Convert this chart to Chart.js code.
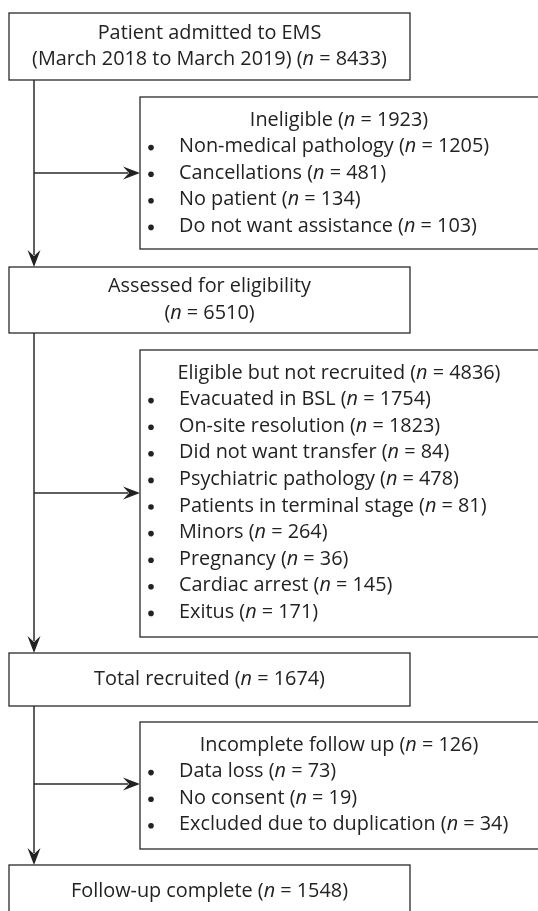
<!DOCTYPE html>
<html lang="en">
<head>
    <meta charset="UTF-8">
    <title>Patient flow</title>
    <style>
        html, body { margin: 0; padding: 0; background: #fff; }
        canvas { display: block; }
    </style>
</head>
<body>

<canvas id="flow-chart" width="538" height="911"></canvas>

<script src="https://cdn.jsdelivr.net/npm/chart.js@4.4.1/dist/chart.umd.min.js"></script>
<script>
    // main stream
    const stepLabels = ['Patient admitted to EMS', 'Assessed for eligibility', 'Total recruited', 'Follow-up complete'];
    const stepNotes = ['(March 2018 to March 2019)', '', '', ''];
    const stepCounts = [8433, 6510, 1674, 1548];

    // side boxes, people leaving the stream
    const exitLabels = ['Ineligible', 'Eligible but not recruited', 'Incomplete follow up'];
    const exitCounts = [1923, 4836, 126];

    const ineligibleReasons = ['Non-medical pathology', 'Cancellations', 'No patient', 'Do not want assistance'];
    const ineligibleCounts = [1205, 481, 134, 103];

    const notRecruitedReasons = ['Evacuated in BSL', 'On-site resolution', 'Did not want transfer',
        'Psychiatric pathology', 'Patients in terminal stage', 'Minors', 'Pregnancy', 'Cardiac arrest', 'Exitus'];
    const notRecruitedCounts = [1754, 1823, 84, 478, 81, 264, 36, 145, 171];

    const lossReasons = ['Data loss', 'No consent', 'Excluded due to duplication'];
    const lossCounts = [73, 19, 34];

    const exitReasons = [ineligibleReasons, notRecruitedReasons, lossReasons];
    const exitReasonCounts = [ineligibleCounts, notRecruitedCounts, lossCounts];

    // layout (chart units, the scales run 0..538 and 0..911)
    const SPINE_X = 34;
    const stepBoxes = [[9, 410, 13, 80], [9, 410, 267, 333], [9, 410, 653, 706], [9, 410, 865, 918]];
    const stepTwoLines = [true, true, false, false];
    const exitBoxes = [[140, 545, 97, 249], [140, 545, 350, 637], [140, 545, 722, 849]];
    const exitArrowY = [173, 493, 784];
    const LINE_H = 26.6;
    const PAD_TOP = 23;
    const BULLET_X = 151;
    const TEXT_X = 179;
    const FONT = '"Open Sans", "Noto Sans", sans-serif';
    const INK = '#222';

    let fontPx = 18;

    function countSegs(n) {
        return [{t: '(', i: false}, {t: 'n', i: true}, {t: ' = ' + n + ')', i: false}];
    }

    function setFont(ctx, italic) {
        ctx.font = (italic ? 'italic ' : '') + fontPx + 'px ' + FONT;
    }

    function segWidth(ctx, segs) {
        let w = 0;
        for (const s of segs) {
            setFont(ctx, s.i);
            w += ctx.measureText(s.t).width;
        }
        return w;
    }

    function drawSegs(ctx, segs, x, y, center) {
        let cx = center ? x - segWidth(ctx, segs) / 2 : x;
        ctx.fillStyle = INK;
        ctx.textBaseline = 'middle';
        ctx.textAlign = 'left';
        for (const s of segs) {
            setFont(ctx, s.i);
            ctx.fillText(s.t, cx, y);
            cx += ctx.measureText(s.t).width;
        }
    }

    function arrowHead(ctx, x, y, dir) {
        const L = 17, W = 6.5, notch = 6;
        ctx.beginPath();
        if (dir === 'down') {
            ctx.moveTo(x, y);
            ctx.lineTo(x - W, y - L);
            ctx.lineTo(x, y - L + notch);
            ctx.lineTo(x + W, y - L);
        } else {
            ctx.moveTo(x, y);
            ctx.lineTo(x - L, y - W);
            ctx.lineTo(x - L + notch, y);
            ctx.lineTo(x - L, y + W);
        }
        ctx.closePath();
        ctx.fillStyle = INK;
        ctx.fill();
    }

    const flowPlugin = {
        id: 'flow',
        afterDraw(chart) {
            const ctx = chart.ctx;
            const sx = v => chart.scales.x.getPixelForValue(v);
            const sy = v => chart.scales.y.getPixelForValue(v);

            // fit the font on the widest line of the first box
            fontPx = 40;
            const probe = [{t: stepNotes[0] + ' ', i: false}].concat(countSegs(stepCounts[0]));
            fontPx = 40 * 355 / segWidth(ctx, probe);

            ctx.save();
            ctx.strokeStyle = '#2a2a2a';

            // spine with arrows down to each step
            ctx.lineWidth = 1.5;
            for (let k = 0; k < stepBoxes.length - 1; k++) {
                const yTop = sy(stepBoxes[k][3]);
                const yEnd = sy(stepBoxes[k + 1][2]);
                ctx.beginPath();
                ctx.moveTo(sx(SPINE_X), yTop);
                ctx.lineTo(sx(SPINE_X), yEnd - 12);
                ctx.stroke();
                arrowHead(ctx, sx(SPINE_X), yEnd, 'down');
            }

            // branches to the side boxes
            for (let k = 0; k < exitBoxes.length; k++) {
                const y = sy(exitArrowY[k]);
                const xEnd = sx(exitBoxes[k][0]);
                ctx.beginPath();
                ctx.moveTo(sx(SPINE_X), y);
                ctx.lineTo(xEnd - 12, y);
                ctx.stroke();
                arrowHead(ctx, xEnd, y, 'right');
            }

            // step boxes
            ctx.lineWidth = 1.3;
            stepBoxes.forEach((b, k) => {
                const x0 = sx(b[0]), x1 = sx(b[1]), y0 = sy(b[2]), y1 = sy(b[3]);
                ctx.fillStyle = '#fff';
                ctx.fillRect(x0, y0, x1 - x0, y1 - y0);
                ctx.strokeRect(x0, y0, x1 - x0, y1 - y0);
                const cx = (x0 + x1) / 2, cy = (y0 + y1) / 2;
                if (stepTwoLines[k]) {
                    const second = stepNotes[k]
                        ? [{t: stepNotes[k] + ' ', i: false}].concat(countSegs(stepCounts[k]))
                        : countSegs(stepCounts[k]);
                    drawSegs(ctx, [{t: stepLabels[k], i: false}], cx, cy - LINE_H / 2, true);
                    drawSegs(ctx, second, cx, cy + LINE_H / 2, true);
                } else {
                    const one = [{t: stepLabels[k] + ' ', i: false}].concat(countSegs(stepCounts[k]));
                    drawSegs(ctx, one, cx, cy, true);
                }
            });

            // exit boxes
            exitBoxes.forEach((b, k) => {
                const x0 = sx(b[0]), x1 = sx(b[1]), y0 = sy(b[2]), y1 = sy(b[3]);
                ctx.fillStyle = '#fff';
                ctx.fillRect(x0, y0, x1 - x0, y1 - y0);
                ctx.strokeRect(x0, y0, x1 - x0, y1 - y0);
                const cx = (sx(b[0]) + sx(538)) / 2;
                let y = y0 + PAD_TOP;
                drawSegs(ctx, [{t: exitLabels[k] + ' ', i: false}].concat(countSegs(exitCounts[k])), cx, y, true);
                exitReasons[k].forEach((r, j) => {
                    y += LINE_H;
                    ctx.beginPath();
                    ctx.arc(sx(BULLET_X), y + 1, 2.8, 0, Math.PI * 2);
                    ctx.fillStyle = INK;
                    ctx.fill();
                    drawSegs(ctx, [{t: r + ' ', i: false}].concat(countSegs(exitReasonCounts[k][j])), sx(TEXT_X), y, false);
                });
            });

            ctx.restore();
        }
    };

    new Chart(document.getElementById('flow-chart'), {
        type: 'scatter',
        data: {datasets: [{data: []}]},
        options: {
            responsive: false,
            devicePixelRatio: 1,
            animation: false,
            layout: {padding: 0},
            plugins: {legend: {display: false}, tooltip: {enabled: false}},
            scales: {
                x: {type: 'linear', min: 0, max: 538, display: false},
                y: {type: 'linear', min: 0, max: 911, reverse: true, display: false}
            }
        },
        plugins: [flowPlugin]
    });
</script>
</body>
</html>
